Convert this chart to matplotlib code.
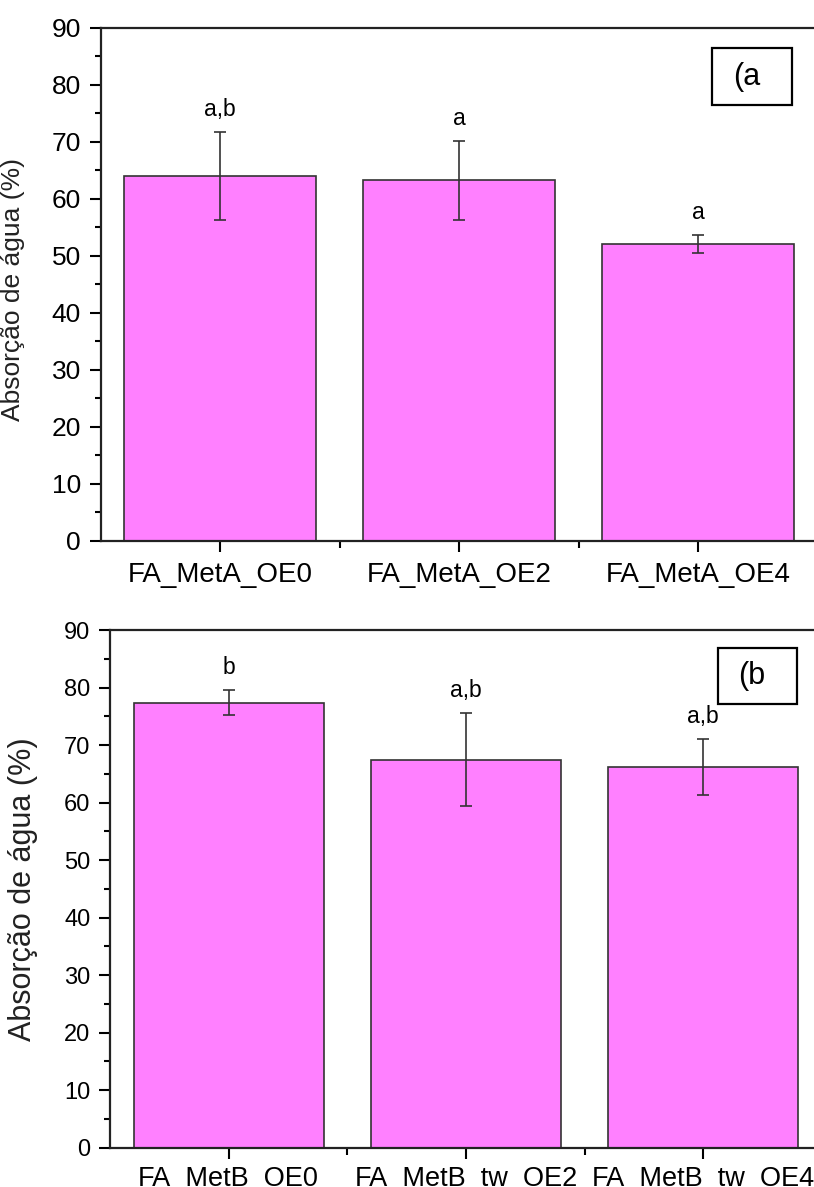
import matplotlib
matplotlib.use('Agg')
import matplotlib.pyplot as plt
from matplotlib.patches import Rectangle
import numpy as np

plt.rcParams['font.family'] = ['Liberation Sans', 'DejaVu Sans']

# dados (a)
amostras_a = ['FA_MetA_OE0', 'FA_MetA_OE2', 'FA_MetA_OE4']
media_a = [64.0, 63.2, 52.0]
erro_a = [7.7, 6.9, 1.6]
letras_a = ['a,b', 'a', 'a']

# dados (b)
amostras_b = ['FA_MetB_OE0', 'FA_MetB_tw_OE2', 'FA_MetB_tw_OE4']
media_b = [77.4, 67.5, 66.2]
erro_b = [2.2, 8.1, 4.9]
letras_b = ['b', 'a,b', 'a,b']

cor_barra = '#ff80ff'
ylabel = 'Absorção de água (%)'

fig = plt.figure(figsize=(8.14, 11.87), dpi=100)


def painel(rect, nomes, media, erro, letras, tag, box, tam_tick, tam_cat, tam_ylab, ylab_xy, pad_x):
    ax = fig.add_axes(rect)
    x = np.arange(1, len(nomes) + 1)
    ax.bar(x, media, width=0.8, color=cor_barra, edgecolor='#333333', linewidth=1.2, zorder=2)
    ax.errorbar(x, media, yerr=erro, fmt='none', ecolor='#333333', elinewidth=1.2,
                capsize=4, capthick=1.2, zorder=3)
    for xi, m, e, l in zip(x, media, erro, letras):
        ax.annotate(l, (xi, m + e), xytext=(0, 16), textcoords='offset points',
                    ha='center', va='center', fontsize=16.5)

    ax.set_xlim(0.5, len(nomes) + 0.5)
    ax.set_ylim(0, 90)
    ax.set_yticks(np.arange(0, 91, 10))
    ax.set_yticks(np.arange(5, 90, 10), minor=True)
    ax.set_xticks(x)
    ax.set_xticks(x[:-1] + 0.5, minor=True)
    ax.set_xticklabels(nomes, fontsize=tam_cat)
    ax.tick_params(axis='y', labelsize=tam_tick)
    ax.tick_params(which='major', direction='out', length=8, width=1.5, pad=6)
    ax.tick_params(which='minor', direction='out', length=4.5, width=1.5)
    ax.tick_params(axis='x', which='minor', length=5)
    ax.tick_params(axis='x', which='major', pad=pad_x)

    for s in ['left', 'bottom', 'top']:
        ax.spines[s].set_linewidth(1.6)
        ax.spines[s].set_color('#222222')
    ax.spines['right'].set_visible(False)

    ax.set_ylabel(ylabel, fontsize=tam_ylab, color='#222222')
    ax.yaxis.set_label_coords(*ylab_xy)

    # caixa com a letra do painel
    bx, by, bw, bh = box
    fig.patches.append(Rectangle((bx / 814, 1 - (by + bh) / 1187), bw / 814, bh / 1187,
                                 transform=fig.transFigure, fill=False,
                                 edgecolor='black', linewidth=1.6))
    fig.text((bx + bw * 0.43) / 814, 1 - (by + bh / 2) / 1187, tag,
             ha='center', va='center', fontsize=22)
    return ax


painel([0.1235, 0.5445, 0.8808, 0.4322], amostras_a, media_a, erro_a, letras_a,
       '(a', (712, 48, 80, 57), 19, 20, 19, (-0.105, 0.49), 7)
painel([0.1351, 0.0331, 0.8747, 0.436], amostras_b, media_b, erro_b, letras_b,
       '(b', (718, 648, 79, 56), 17, 19.5, 22, (-0.101, 0.50), 5)

fig.savefig('out.png', dpi=100)
